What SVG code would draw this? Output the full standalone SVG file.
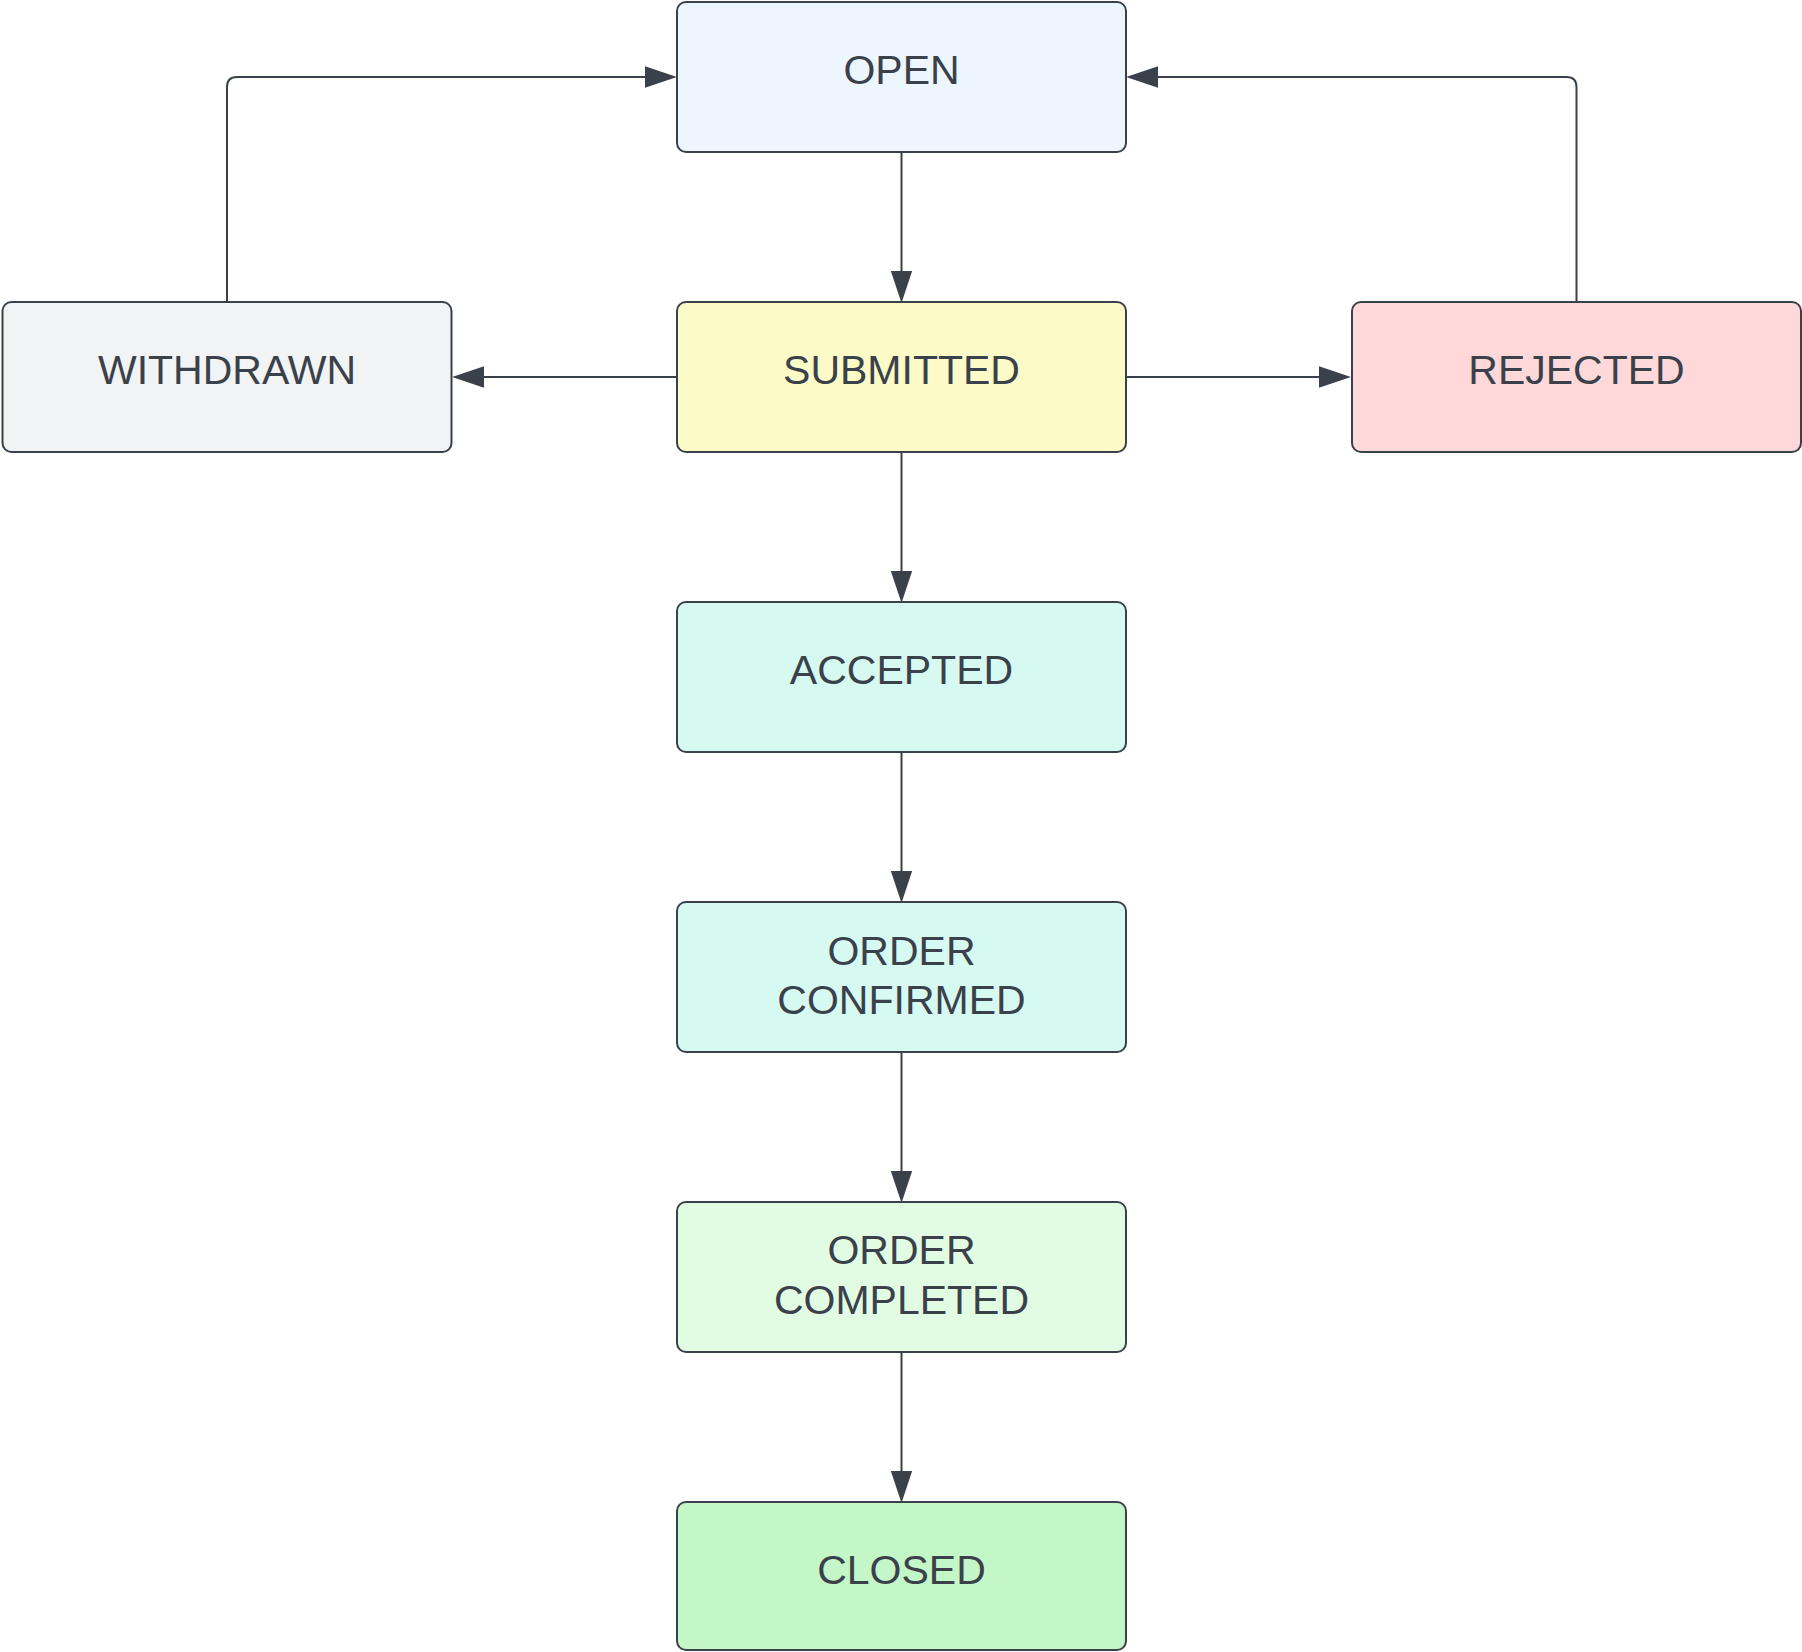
<svg xmlns="http://www.w3.org/2000/svg" width="1802" height="1652" viewBox="0 0 1802 1652">
<defs>
<style>
.node rect{stroke:#3a414a;stroke-width:2}
.node text{font-family:"Liberation Sans",Arial,sans-serif;font-size:41px;fill:#3a414a;text-anchor:middle}
.edge{fill:none;stroke:#3a414a;stroke-width:2;marker-end:url(#ah)}
</style>
<marker id="ah" markerUnits="userSpaceOnUse" markerWidth="32" markerHeight="22" viewBox="0 0 30 20" refX="1" refY="10" orient="auto">
<path d="M0,0 L30,10 L0,20 z" fill="#3a414a"/>
</marker>
</defs>
<rect width="1802" height="1652" fill="#ffffff"/>
<g id="connectors">
<path class="edge" d="M901.5,152 V272"/>
<path class="edge" d="M677,377 H483"/>
<path class="edge" d="M1126,377 H1320"/>
<path class="edge" d="M901.5,452 V572"/>
<path class="edge" d="M901.5,752 V872"/>
<path class="edge" d="M901.5,1052 V1172"/>
<path class="edge" d="M901.5,1352 V1472"/>
<path class="edge" d="M227,302 V87 Q227,77 237,77 H646"/>
<path class="edge" d="M1576.5,302 V87 Q1576.5,77 1566.5,77 H1157"/>
</g>
<g id="node-open" class="node">
<rect x="677" y="2" width="449" height="150" rx="9" fill="#edf5ff"/>
<text x="901.5" y="83.5">OPEN</text>
</g>
<g id="node-withdrawn" class="node">
<rect x="2.5" y="302" width="449" height="150" rx="9" fill="#f2f3f5"/>
<text x="227" y="383.5">WITHDRAWN</text>
</g>
<g id="node-submitted" class="node">
<rect x="677" y="302" width="449" height="150" rx="9" fill="#fcfbc8"/>
<text x="901.5" y="383.5">SUBMITTED</text>
</g>
<g id="node-rejected" class="node">
<rect x="1352" y="302" width="449" height="150" rx="9" fill="#ffd9da"/>
<text x="1576.5" y="383.5">REJECTED</text>
</g>
<g id="node-accepted" class="node">
<rect x="677" y="602" width="449" height="150" rx="9" fill="#d6f9f2"/>
<text x="901.5" y="683.5">ACCEPTED</text>
</g>
<g id="node-order-confirmed" class="node">
<rect x="677" y="902" width="449" height="150" rx="9" fill="#d6f9f2"/>
<text x="901.5" y="964.5">ORDER</text>
<text x="901.5" y="1014">CONFIRMED</text>
</g>
<g id="node-order-completed" class="node">
<rect x="677" y="1202" width="449" height="150" rx="9" fill="#e2fbe3"/>
<text x="901.5" y="1264">ORDER</text>
<text x="901.5" y="1313.5">COMPLETED</text>
</g>
<g id="node-closed" class="node">
<rect x="677" y="1502" width="449" height="148" rx="9" fill="#c3f7c8"/>
<text x="901.5" y="1583.5">CLOSED</text>
</g>
</svg>
